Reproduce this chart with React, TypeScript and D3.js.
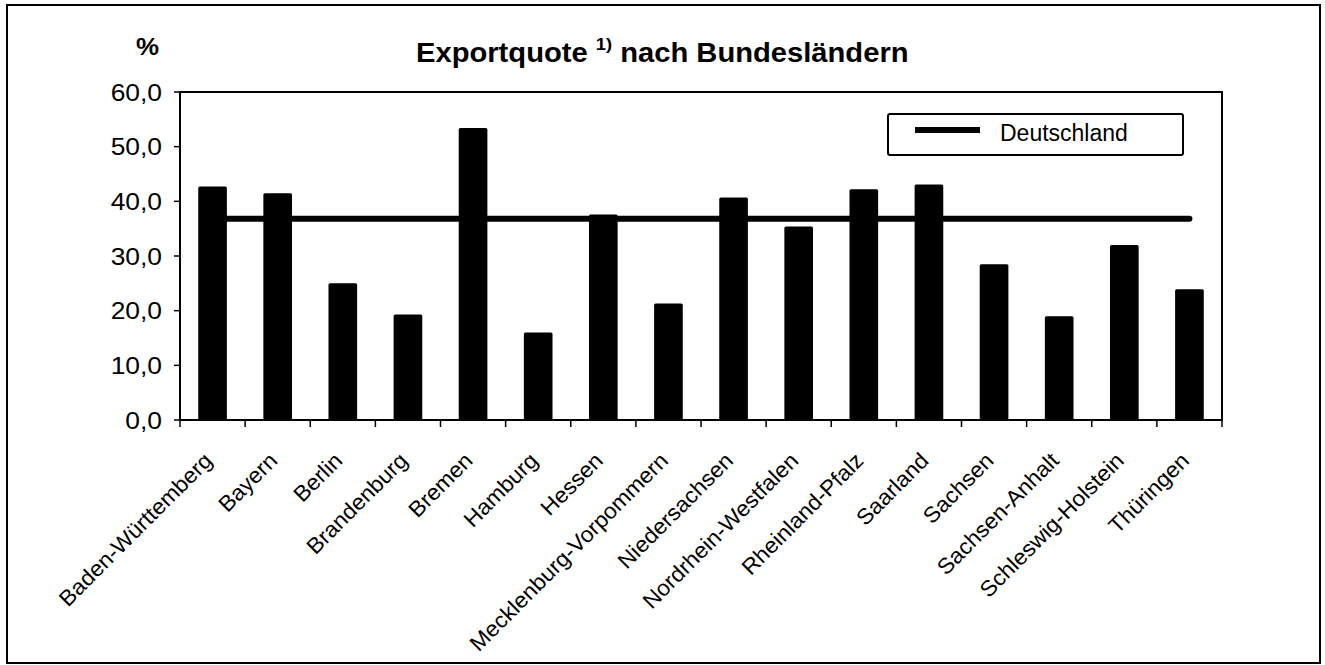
import * as d3 from "d3"

const categories = [
  "Baden-Württemberg", "Bayern", "Berlin", "Brandenburg", "Bremen", "Hamburg", "Hessen",
  "Mecklenburg-Vorpommern", "Niedersachsen", "Nordrhein-Westfalen", "Rheinland-Pfalz",
  "Saarland", "Sachsen", "Sachsen-Anhalt", "Schleswig-Holstein", "Thüringen",
]
const exportRates = [42.7, 41.5, 25.0, 19.3, 53.4, 16.0, 37.6, 21.3, 40.7, 35.4, 42.2, 43.1, 28.5, 19.0, 32.0, 23.9]
const germanyRate = 36.8
const yTicks = [0, 10, 20, 30, 40, 50, 60]

const font = "'Liberation Sans', Arial, sans-serif"

export default function App() {
  const width = 1325
  const height = 665
  const plot = { left: 180, right: 1222, top: 92, bottom: 420 }

  const x = d3.scaleBand().domain(categories).range([plot.left, plot.right]).padding(0)
  const y = d3.scaleLinear().domain([0, 60]).range([plot.bottom, plot.top])
  const barW = x.bandwidth() * 0.44
  const center = (c: string) => (x(c) ?? 0) + x.bandwidth() / 2
  const fmt = (v: number) => d3.format(".1f")(v).replace(".", ",")

  const germanyLine = d3
    .line<string>()
    .x((c) => center(c))
    .y(() => y(germanyRate))(categories)

  const boundaries = categories.map((c) => x(c) ?? 0).concat([plot.right])

  return (
    <svg width={width} height={height} style={{ position: "absolute", left: 0, top: 0, background: "#fff" }} fontFamily={font}>
      <rect x={7} y={5} width={1313} height={658} fill="none" stroke="#000" strokeWidth={2} />

      <text transform="translate(159,55) scale(1.08,1)" textAnchor="end" fontSize={24} fontWeight="bold">%</text>
      <text transform="translate(416,62) scale(1.08,1)" fontSize={27} fontWeight="bold">
        Exportquote <tspan fontSize={17} dy={-12}>1)</tspan>
        <tspan dy={12}> nach Bundesländern</tspan>
      </text>

      {/* plot frame */}
      <rect x={plot.left} y={plot.top} width={plot.right - plot.left} height={plot.bottom - plot.top} fill="none" stroke="#000" strokeWidth={2} />

      {categories.map((c, i) => (
        <rect key={c} x={center(c) - barW / 2} y={y(exportRates[i])} width={barW} height={plot.bottom - y(exportRates[i])} fill="#000" rx={1.5} />
      ))}

      <path d={germanyLine ?? ""} fill="none" stroke="#000" strokeWidth={6} strokeLinecap="round" />

      {/* y axis */}
      {yTicks.map((t) => (
        <g key={t}>
          <line x1={plot.left - 6} x2={plot.left} y1={y(t)} y2={y(t)} stroke="#000" strokeWidth={1.5} />
          <text transform={`translate(162,${y(t)}) scale(1.1,1)`} dy="0.36em" textAnchor="end" fontSize={24}>{fmt(t)}</text>
        </g>
      ))}

      {/* x axis */}
      <line x1={plot.left} x2={plot.right} y1={plot.bottom} y2={plot.bottom} stroke="#000" strokeWidth={2} />
      {boundaries.map((b, i) => (
        <line key={i} x1={b} x2={b} y1={plot.bottom} y2={plot.bottom + 7} stroke="#000" strokeWidth={1.5} />
      ))}
      {categories.map((c) => (
        <text key={c} transform={`translate(${center(c) + 1},${462}) rotate(-45) scale(1.04,1)`} textAnchor="end" fontSize={22}>
          {c}
        </text>
      ))}

      {/* legend */}
      <rect x={888} y={114} width={295} height={41} fill="#fff" stroke="#000" strokeWidth={2} rx={2} />
      <line x1={915} x2={980} y1={130} y2={130} stroke="#000" strokeWidth={6} />
      <text x={1000} y={141} fontSize={23}>Deutschland</text>
    </svg>
  )
}
